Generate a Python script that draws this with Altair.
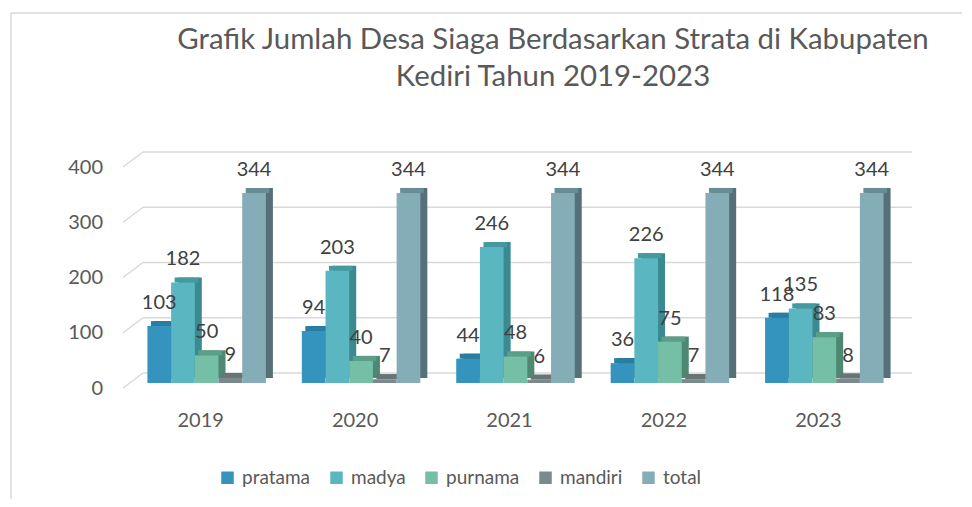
import altair as alt
import pandas as pd

years = ["2019", "2020", "2021", "2022", "2023"]
series = ["pratama", "madya", "purnama", "mandiri", "total"]
pratama = [103, 94, 44, 36, 118]
madya = [182, 203, 246, 226, 135]
purnama = [50, 40, 48, 75, 83]
mandiri = [9, 7, 6, 7, 8]
total = [344, 344, 344, 344, 344]
front_colors = ["#3494BE", "#5AB7C1", "#74BFA5", "#7A8A8C", "#85ADB7"]
side_colors = ["#236E8E", "#3B8A92", "#4C8872", "#566264", "#56707A"]
top_colors = ["#2A7DA2", "#46999F", "#5C9F88", "#677577", "#6A8C95"]
y_ticks = [0, 100, 200, 300, 400]
title_lines = ["Grafik Jumlah Desa Siaga Berdasarkan Strata di Kabupaten",
               "Kediri Tahun 2019-2023"]

values = [pratama, madya, purnama, mandiri, total]
rows = []
for s, vals, sc, tc in zip(series, values, side_colors, top_colors):
    for yr, v in zip(years, vals):
        rows.append(dict(year=yr, series=s, value=v, side=sc, top=tc))
df = pd.DataFrame(rows)
grid_df = pd.DataFrame({"v": y_ticks})

FONT = "Lato"
GRID = "#d9d9d9"
TXT = "#595959"
W, H = 772, 221
PI, PO = 0.2325, 0.116
BW = W / 5 * (1 - PI)  # width of one year's group of bars

xenc = alt.X("year:N", sort=years,
             scale=alt.Scale(paddingInner=PI, paddingOuter=PO),
             axis=alt.Axis(labelFontSize=20, labelFont=FONT, labelColor=TXT,
                           labelPadding=27, labelOffset=-6, labelAngle=0,
                           domain=False, ticks=False, grid=False, title=None))


def xoff(shift):
    return alt.XOffset("series:N", sort=series,
                       scale=alt.Scale(paddingInner=0, paddingOuter=0,
                                       range=[shift, BW + shift]))


yenc = alt.Y("value:Q", scale=alt.Scale(domain=[0, 400]),
             axis=alt.Axis(values=y_ticks, labelFontSize=20, labelFont=FONT,
                           labelColor=TXT, labelPadding=27, labelOffset=5,
                           domain=False, ticks=False, grid=False, title=None))

base = alt.Chart(df)

back = base.mark_bar(yOffset=-5, y2Offset=-5).encode(
    x=xenc, xOffset=xoff(7), y=yenc, fill=alt.Fill("side:N", scale=None))

topface = base.mark_bar(yOffset=-5, y2Offset=0).encode(
    x=xenc, xOffset=xoff(3.5), y=yenc, y2=alt.Y2("value:Q"),
    fill=alt.Fill("top:N", scale=None))

front = base.mark_bar().encode(
    x=xenc, xOffset=xoff(0), y=yenc,
    color=alt.Color("series:N", sort=series,
                    scale=alt.Scale(domain=series, range=front_colors),
                    legend=alt.Legend(orient="none", legendX=88.5, legendY=306,
                                      direction="horizontal", title=None,
                                      symbolType="square", symbolSize=156,
                                      symbolStrokeWidth=0,
                                      labelFontSize=19, labelFont=FONT,
                                      labelColor=TXT, columnPadding=16,
                                      labelOffset=5, padding=0)))

labels = base.mark_text(dy=-23, fontSize=20, font=FONT, color="#404040",
                        baseline="middle").encode(
    x=xenc,
    xOffset=alt.XOffset("series:N", sort=series,
                        scale=alt.Scale(type="point", padding=0.5, range=[0, BW])),
    y=yenc, text="value:Q")

back_grid = alt.Chart(grid_df).mark_rule(color=GRID, strokeWidth=1.5, yOffset=-10).encode(
    y=alt.Y("v:Q"), x=alt.value(13.5), x2=alt.value(782.5))

diag_grid = alt.Chart(grid_df).mark_rule(color=GRID, strokeWidth=1.5,
                                         yOffset=5, y2Offset=-10).encode(
    y=alt.Y("v:Q"), y2=alt.Y2("v:Q"), x=alt.value(-6.5), x2=alt.value(13.5))

title1 = alt.Chart(pd.DataFrame({"t": [title_lines[0]]})).mark_text(
    font=FONT, fontSize=29.4, color=TXT, baseline="middle").encode(
    text="t:N", x=alt.value(423.5), y=alt.value(-122))
title2 = alt.Chart(pd.DataFrame({"t": [title_lines[1]]})).mark_text(
    font=FONT, fontSize=29.4, color=TXT, baseline="middle").encode(
    text="t:N", x=alt.value(423.5), y=alt.value(-85))

border_df = pd.DataFrame({"a": [0]})
border_left = alt.Chart(border_df).mark_rule(color=GRID, strokeWidth=1.5).encode(
    x=alt.value(-118.5), y=alt.value(-149), y2=alt.value(345))
border_top = alt.Chart(border_df).mark_rule(color=GRID, strokeWidth=1.5).encode(
    x=alt.value(-118.5), x2=alt.value(840), y=alt.value(-149))

chart = alt.layer(
    border_left, border_top, back_grid, diag_grid,
    back, topface, front, labels, title1, title2
).resolve_scale(
    xOffset="independent"
).properties(
    width=W, height=H,
    autosize=alt.AutoSizeParams(type="none"),
    padding={"left": 121.5, "top": 154, "right": 60, "bottom": 116},
    background="white",
).configure_view(stroke=None)

chart.save("out.html", embed_options={"renderer": "svg", "actions": False})
